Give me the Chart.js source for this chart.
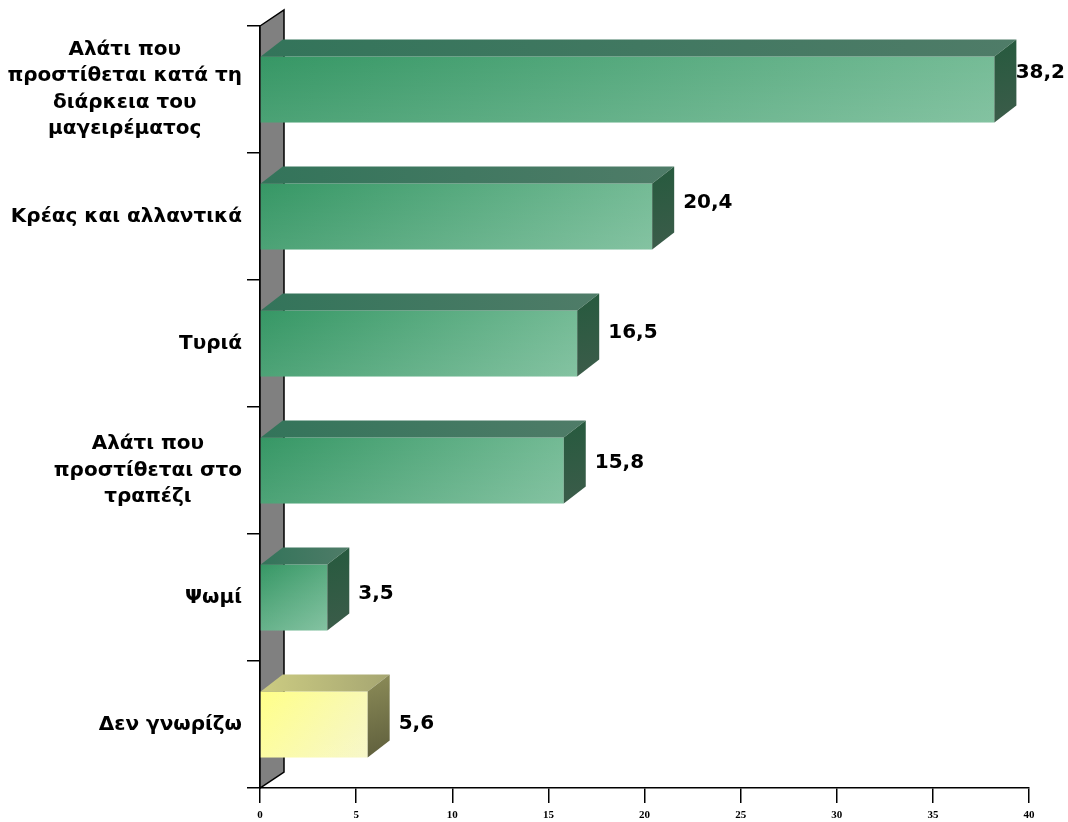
<!DOCTYPE html>
<html>
<head>
<meta charset="utf-8">
<script src="https://cdn.jsdelivr.net/npm/chart.js@4"></script>
<style>
  html, body { margin: 0; padding: 0; background: #fff; }
  canvas { display: block; }
</style>
</head>
<body>
<canvas id="salt-chart" width="1068" height="822"></canvas>
<script>
// ---------------- data ----------------
const categories = [
    ["Αλάτι που", "προστίθεται κατά τη", "διάρκεια του", "μαγειρέματος"],
    ["Κρέας και αλλαντικά"],
    ["Τυριά"],
    ["Αλάτι που", "προστίθεται στο", "τραπέζι"],
    ["Ψωμί"],
    ["Δεν γνωρίζω"]
];
const values = [38.2, 20.4, 16.5, 15.8, 3.5, 5.6];
const valueLabels = ["38,2", "20,4", "16,5", "15,8", "3,5", "5,6"];
const xTicks = [0, 5, 10, 15, 20, 25, 30, 35, 40];

// ---------------- look ----------------
const BAR_PCT = 0.52;
const DEPTH_X = 22, DEPTH_Y = -17;   // 3d depth of bars
const WALL_X = 24, WALL_Y = -16;     // 3d depth of the back wall
const LABEL_FONT = 'bold 20px "DejaVu Sans", Verdana, sans-serif';

const themes = {
    green: { front: ['#369765', '#76bc97'], top: ['#33745a', '#4f7c68'], side: ['#265a3e', '#3c5c4a'] },
    yellow: { front: ['#ffff88', '#f6f6c4'], top: ['#cccc82', '#a6a672'], side: ['#8c8c58', '#5e5e3c'] }
};
// last category ("Δεν γνωρίζω") is shown in yellow
function themeFor(i) {
    return i === values.length - 1 ? themes.yellow : themes.green;
}

function barBox(chart, i) {
    const xs = chart.scales.x, ys = chart.scales.y;
    const left = xs.getPixelForValue(0);
    const right = xs.getPixelForValue(values[i]);
    const yc = ys.getPixelForValue(i);
    const half = (ys.height / categories.length) * BAR_PCT / 2;
    return { left, right, top: yc - half, bottom: yc + half, yc };
}

// ---------------- plugins ----------------
const wallPlugin = {
    id: 'wall',
    beforeDatasetsDraw(chart) {
        const { ctx, chartArea } = chart;
        const l = chartArea.left, t = chartArea.top, b = chartArea.bottom;
        ctx.save();
        ctx.beginPath();
        ctx.moveTo(l, t);
        ctx.lineTo(l + WALL_X, t + WALL_Y);
        ctx.lineTo(l + WALL_X, b + WALL_Y);
        ctx.lineTo(l, b);
        ctx.closePath();
        ctx.fillStyle = '#808080';
        ctx.fill();
        ctx.lineWidth = 1.5;
        ctx.strokeStyle = '#000';
        ctx.stroke();
        ctx.restore();
    }
};

const boxPlugin = {
    id: 'box3d',
    afterDatasetsDraw(chart) {
        const ctx = chart.ctx;
        const meta = chart.getDatasetMeta(0);
        meta.data.forEach((bar, i) => {
            const p = bar.getProps(['x', 'y', 'base', 'height'], true);
            const left = p.base, right = p.x;
            const top = p.y - p.height / 2, bottom = p.y + p.height / 2;
            const th = themeFor(i);
            ctx.save();

            // soft vertical light on the front face
            let g = ctx.createLinearGradient(0, top, 0, bottom);
            g.addColorStop(0, 'rgba(255,255,255,0)');
            g.addColorStop(1, 'rgba(255,255,255,0.1)');
            ctx.fillStyle = g;
            ctx.fillRect(left, top, right - left, bottom - top);

            // top face
            g = ctx.createLinearGradient(left, top, right + DEPTH_X, top);
            g.addColorStop(0, th.top[0]);
            g.addColorStop(1, th.top[1]);
            ctx.beginPath();
            ctx.moveTo(left, top);
            ctx.lineTo(left + DEPTH_X, top + DEPTH_Y);
            ctx.lineTo(right + DEPTH_X, top + DEPTH_Y);
            ctx.lineTo(right, top);
            ctx.closePath();
            ctx.fillStyle = g;
            ctx.fill();

            // side face
            g = ctx.createLinearGradient(right, top + DEPTH_Y, right + DEPTH_X, bottom);
            g.addColorStop(0, th.side[0]);
            g.addColorStop(1, th.side[1]);
            ctx.beginPath();
            ctx.moveTo(right, top);
            ctx.lineTo(right + DEPTH_X, top + DEPTH_Y);
            ctx.lineTo(right + DEPTH_X, bottom + DEPTH_Y);
            ctx.lineTo(right, bottom);
            ctx.closePath();
            ctx.fillStyle = g;
            ctx.fill();

            // value label
            ctx.font = LABEL_FONT;
            ctx.fillStyle = '#000';
            ctx.textBaseline = 'middle';
            ctx.textAlign = 'left';
            const w = ctx.measureText(valueLabels[i]).width;
            let lx = right + DEPTH_X + 9;
            if (lx + w > chart.width - 3) lx = chart.width - 3 - w;
            ctx.fillText(valueLabels[i], lx, p.y - 17 + 3.2 * i);
            ctx.restore();
        });
    }
};

// category labels: every line centred inside its block, block right-aligned
const catLabelPlugin = {
    id: 'catLabels',
    afterDraw(chart) {
        const ctx = chart.ctx;
        const ys = chart.scales.y;
        const lineH = 26.5;
        const rightEdge = chart.chartArea.left - 18;
        ctx.save();
        ctx.font = LABEL_FONT;
        ctx.fillStyle = '#000';
        ctx.textBaseline = 'middle';
        ctx.textAlign = 'center';
        categories.forEach((lines, i) => {
            const blockW = Math.max(...lines.map(s => ctx.measureText(s).width));
            const cx = rightEdge - blockW / 2;
            const yc = ys.getPixelForValue(i);
            const y0 = yc - (lines.length - 1) * lineH / 2;
            lines.forEach((s, k) => ctx.fillText(s, cx, y0 + k * lineH));
        });
        ctx.restore();
    }
};

// ---------------- chart ----------------
new Chart(document.getElementById('salt-chart'), {
    type: 'bar',
    data: {
        labels: categories,
        datasets: [{
            data: values,
            barPercentage: BAR_PCT,
            categoryPercentage: 1,
            borderWidth: 0,
            backgroundColor: (c) => {
                const chart = c.chart;
                if (!chart.chartArea || c.type !== 'data') return '#5aae82';
                const b = barBox(chart, c.dataIndex);
                const th = themeFor(c.dataIndex);
                const g = chart.ctx.createLinearGradient(b.left, b.top, b.right, b.bottom);
                g.addColorStop(0, th.front[0]);
                g.addColorStop(1, th.front[1]);
                return g;
            }
        }]
    },
    options: {
        indexAxis: 'y',
        responsive: false,
        animation: false,
        devicePixelRatio: 1,
        layout: { padding: { top: 26, right: 39, bottom: 0, left: 0 } },
        plugins: {
            legend: { display: false },
            tooltip: { enabled: false }
        },
        scales: {
            x: {
                min: xTicks[0],
                max: xTicks[xTicks.length - 1],
                afterBuildTicks: (scale) => { scale.ticks = xTicks.map(v => ({ value: v })); },
                afterFit: (scale) => { scale.height = 34; },
                grid: { drawOnChartArea: false, drawTicks: true, tickLength: 15, color: '#000', lineWidth: 1.5 },
                border: { display: true, color: '#000', width: 1.5 },
                ticks: {
                    padding: 6,
                    color: '#000',
                    font: { family: '"Liberation Serif", "Times New Roman", serif', size: 11, weight: 'bold' }
                }
            },
            y: {
                afterFit: (scale) => { scale.width = 260; },
                grid: { drawOnChartArea: false, drawTicks: true, tickLength: 13, color: '#000', lineWidth: 1.5, offset: true },
                border: { display: true, color: '#000', width: 1.5 },
                ticks: { display: false }
            }
        }
    },
    plugins: [wallPlugin, boxPlugin, catLabelPlugin]
});
</script>
</body>
</html>
